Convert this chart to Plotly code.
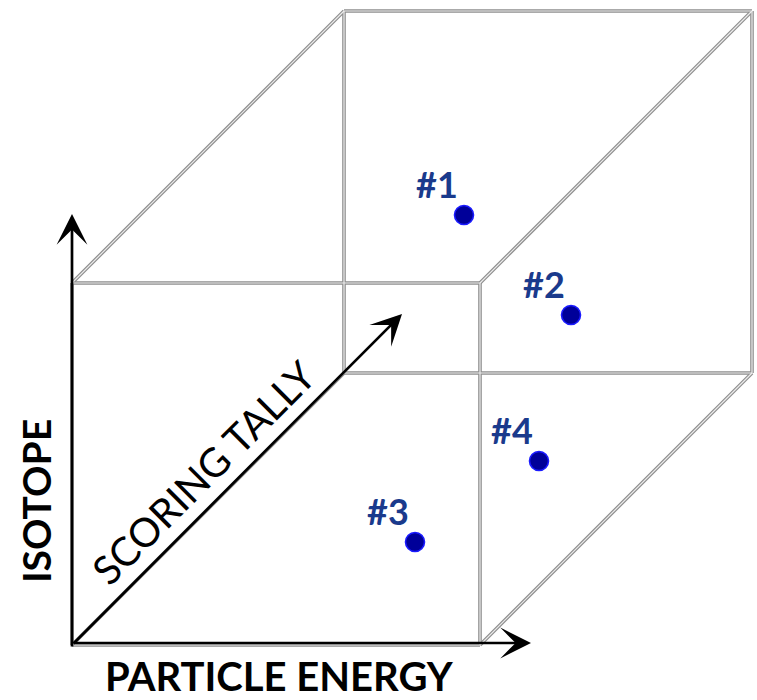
import plotly.graph_objects as go

# ---- data -------------------------------------------------------------
point_labels = ["#1", "#2", "#3", "#4"]
point_x = [464, 571, 415, 539]
point_y = [215, 315, 542, 461]

axis_titles = ["PARTICLE ENERGY", "ISOTOPE", "SCORING TALLY"]

# ---- geometry (chart space, y grows downward) -------------------------
front = dict(x0=72, x1=480, y0=283, y1=645)
depth = 272  # oblique offset for back face

back = dict(x0=front["x0"] + depth, x1=front["x1"] + depth,
            y0=front["y0"] - depth, y1=front["y1"] - depth)

edges = []
for f in (front, back):
    edges += [
        (f["x0"], f["y0"], f["x1"], f["y0"]),
        (f["x0"], f["y1"], f["x1"], f["y1"]),
        (f["x0"], f["y0"], f["x0"], f["y1"]),
        (f["x1"], f["y0"], f["x1"], f["y1"]),
    ]
for cx, cy in [("x0", "y0"), ("x1", "y0"), ("x0", "y1"), ("x1", "y1")]:
    edges.append((front[cx], front[cy], back[cx], back[cy]))

shapes = []
for (xa, ya, xb, yb) in edges:
    shapes.append(dict(type="line", x0=xa, y0=ya, x1=xb, y1=yb, xref="x", yref="y",
                       layer="below", line=dict(color="#8e8e8e", width=3.6)))
for (xa, ya, xb, yb) in edges:
    shapes.append(dict(type="line", x0=xa, y0=ya, x1=xb, y1=yb, xref="x", yref="y",
                       layer="below", line=dict(color="#ececec", width=1.2)))

fig = go.Figure()
fig.add_trace(go.Scatter(
    x=point_x, y=point_y, mode="markers",
    marker=dict(size=19, color="#000099", line=dict(color="#1a1aff", width=1.6)),
    hoverinfo="skip", showlegend=False,
))

annotations = []
origin = (72, 645)
arrow_tips = [(531, 643), (72, 214), (402, 314)]
tails = [(72, 643), (72, 648), origin]
for (tx, ty), (sx, sy) in zip(arrow_tips, tails):
    annotations.append(dict(
        x=tx, y=ty, ax=sx, ay=sy, xref="x", yref="y", axref="x", ayref="y",
        text="", showarrow=True, arrowhead=3, arrowsize=1.9, arrowwidth=2.7,
        arrowcolor="black", standoff=0, startstandoff=0,
    ))

for lab, px, py in zip(point_labels, point_x, point_y):
    annotations.append(dict(
        x=px, y=py, xref="x", yref="y", text="<b>%s</b>" % lab, showarrow=False,
        xshift=-27, yshift=31, xanchor="center", yanchor="middle",
        font=dict(family="Lato", size=36, color="#1a3a8c"),
    ))

annotations.append(dict(
    x=279, y=676, xref="x", yref="y", text="<b>%s</b>" % axis_titles[0], showarrow=False,
    xanchor="center", yanchor="middle", font=dict(family="Lato", size=40, color="black"),
))
annotations.append(dict(
    x=36, y=501, xref="x", yref="y", text="<b>%s</b>" % axis_titles[1], showarrow=False,
    textangle=-90, xanchor="center", yanchor="middle",
    font=dict(family="Lato", size=39, color="black"),
))
annotations.append(dict(
    x=203, y=473, xref="x", yref="y", text=axis_titles[2], showarrow=False,
    textangle=-45, xanchor="center", yanchor="middle",
    font=dict(family="Lato", size=40, color="black"),
))

fig.update_layout(
    width=757, height=700, margin=dict(l=0, r=0, t=0, b=0),
    paper_bgcolor="white", plot_bgcolor="white",
    xaxis=dict(range=[0, 757], visible=False, fixedrange=True),
    yaxis=dict(range=[700, 0], visible=False, fixedrange=True),
    shapes=shapes, annotations=annotations, showlegend=False,
)

fig.write_html("out.html", config={"displayModeBar": False},
               post_script="document.body.style.margin='0';document.body.style.overflow='hidden';")
